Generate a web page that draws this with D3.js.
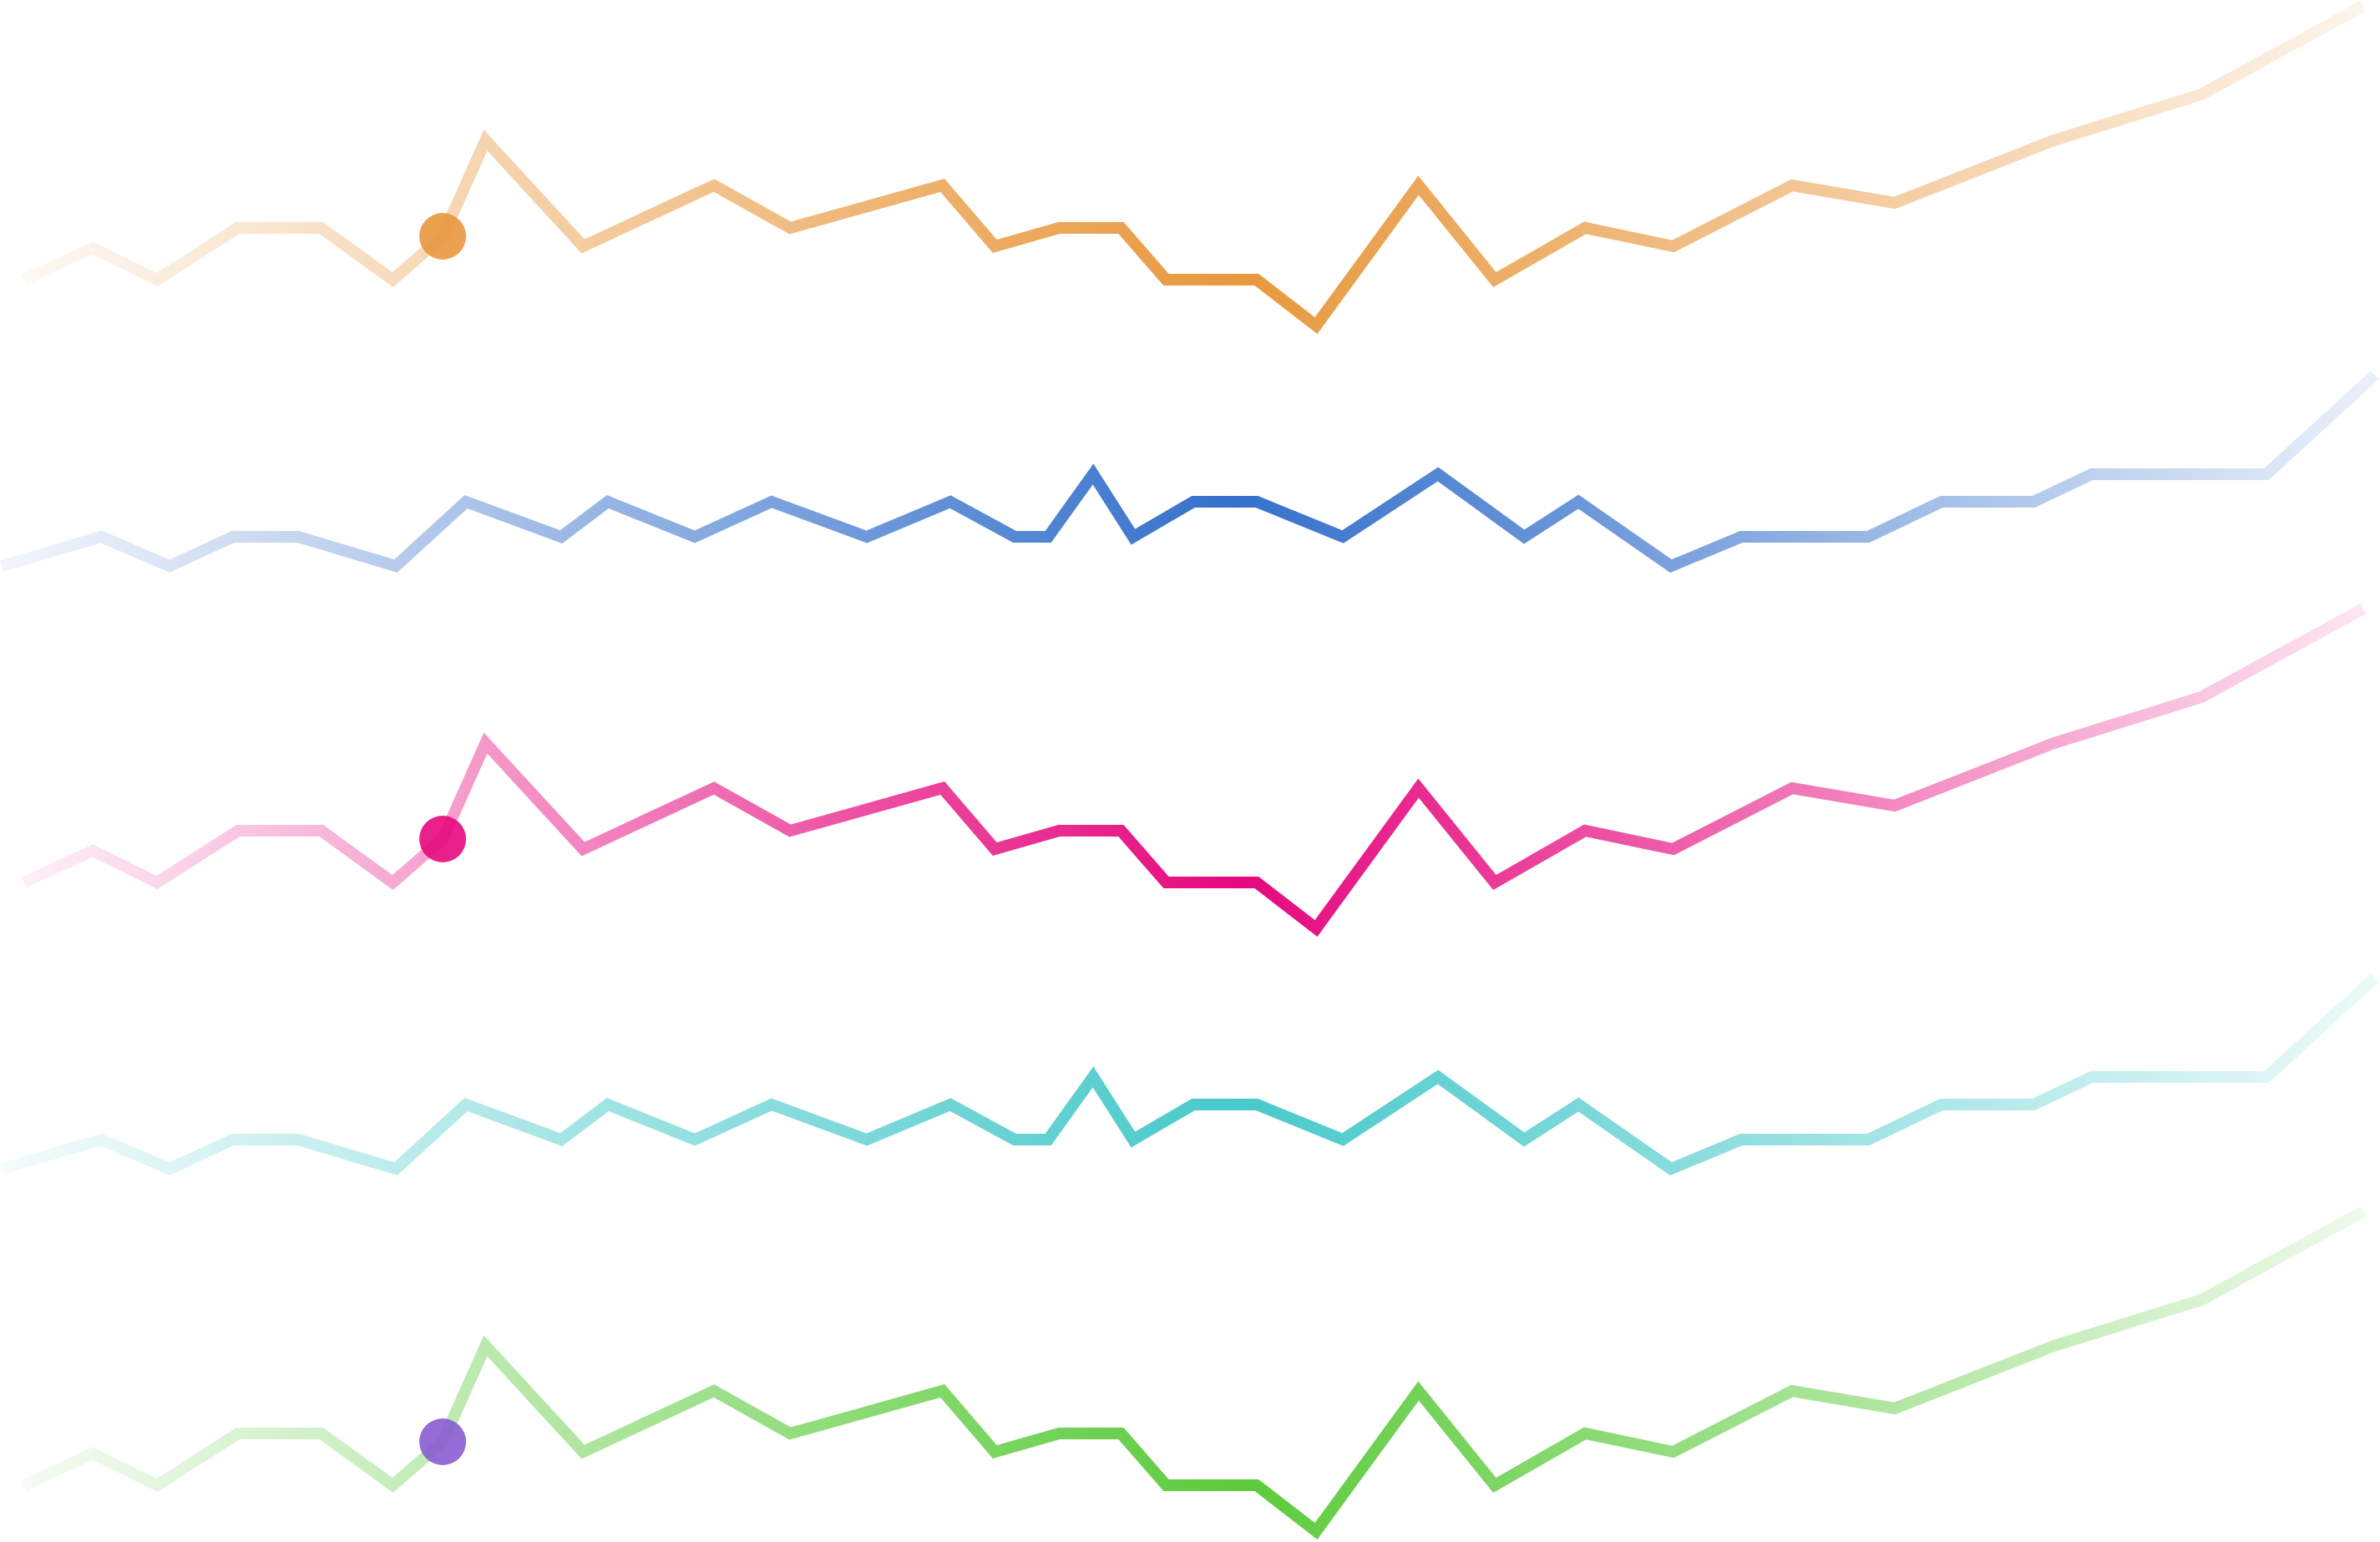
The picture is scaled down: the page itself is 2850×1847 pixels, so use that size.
<!DOCTYPE html>
<html>
<head>
<meta charset="utf-8">
<script src="https://cdn.jsdelivr.net/npm/d3@7"></script>
<style>
  html, body { margin: 0; padding: 0; background: #fff; }
  svg { display: block; }
</style>
</head>
<body>
<svg id="chart"></svg>
<script>
// two shapes, each reused by several series
const waveX = [10, 39, 66, 100, 135, 165, 186, 204, 245, 300, 332, 396, 418, 445, 471, 490, 528, 553, 596, 628, 666, 703, 753, 796, 863, 925, 993];
const waveY = [16.25, 25.75, 16.25, 31.75, 31.75, 16.25, 29.25, 58, 26.25, 44.5, 31.75, 44.5, 26.25, 31.75, 31.75, 16.25, 16.25, 2.5, 44.5, 16.25, 31.75, 26.25, 44.5, 39.25, 58, 71.75, 98.25];

const stepX = [0.7, 42.5, 71.2, 97.9, 125.3, 166.3, 195.8, 235.8, 255.4, 291.9, 324.2, 364.2, 399.3, 426.3, 440.4, 459.3, 476.1, 501.4, 528.1, 564.2, 604.2, 640.4, 663.2, 702.1, 731.6, 784.9, 815.8, 854.4, 878.9, 952.3, 997.9];
const stepY = [20.75, 29.5, 20.75, 29.5, 29.5, 20.75, 40, 29.5, 40, 29.5, 40, 29.5, 40, 29.5, 29.5, 48.25, 29.5, 40, 40, 29.5, 48.25, 29.5, 40, 20.75, 29.5, 29.5, 40, 40, 48.25, 48.25, 78];

const seriesNames = ["orange", "blue", "pink", "teal", "green"];
const seriesShape = ["wave", "step", "wave", "step", "wave"];
const lineColors = ["#E8983E", "#3470CB", "#E5087D", "#48C9CA", "#5CCB3C"];
const dotColors = ["#E8983E", null, "#E5087D", null, "#8A5CD0"];
const markIndex = 6;

const width = 2850;
const height = 1847;
const bandStep = 361;

const svg = d3.select("#chart")
    .attr("width", width)
    .attr("height", height)
    .attr("viewBox", [0, 0, width, height]);

const x = d3.scaleLinear().domain([0, 1000]).range([0, width]);
const y = d3.scaleLinear().domain([0, 100]).range([400, 0]);

const line = d3.line()
    .x(d => x(d[0]))
    .y(d => y(d[1]));

const defs = svg.append("defs");

seriesNames.forEach((name, i) => {
    const xs = seriesShape[i] === "wave" ? waveX : stepX;
    const ys = seriesShape[i] === "wave" ? waveY : stepY;
    const pts = xs.map((v, j) => [v, ys[j]]);

    const grad = defs.append("linearGradient")
        .attr("id", `grad-${name}`)
        .attr("gradientUnits", "userSpaceOnUse")
        .attr("x1", x(xs[0]))
        .attr("x2", x(xs[xs.length - 1]))
        .attr("y1", 0)
        .attr("y2", 0);
    grad.append("stop").attr("offset", "0%").attr("stop-color", lineColors[i]).attr("stop-opacity", 0.06);
    grad.append("stop").attr("offset", "52%").attr("stop-color", lineColors[i]).attr("stop-opacity", 1);
    grad.append("stop").attr("offset", "100%").attr("stop-color", lineColors[i]).attr("stop-opacity", 0.1);

    const g = svg.append("g")
        .attr("transform", `translate(0,${i * bandStep})`);

    g.append("path")
        .datum(pts)
        .attr("fill", "none")
        .attr("stroke", `url(#grad-${name})`)
        .attr("stroke-width", 14)
        .attr("stroke-linejoin", "miter")
        .attr("stroke-linecap", "butt")
        .attr("d", line);

    if (dotColors[i]) {
        g.append("circle")
            .attr("cx", x(pts[markIndex][0]))
            .attr("cy", y(pts[markIndex][1]))
            .attr("r", 28)
            .attr("fill", dotColors[i])
            .attr("fill-opacity", 0.9);
    }
});
</script>
</body>
</html>
